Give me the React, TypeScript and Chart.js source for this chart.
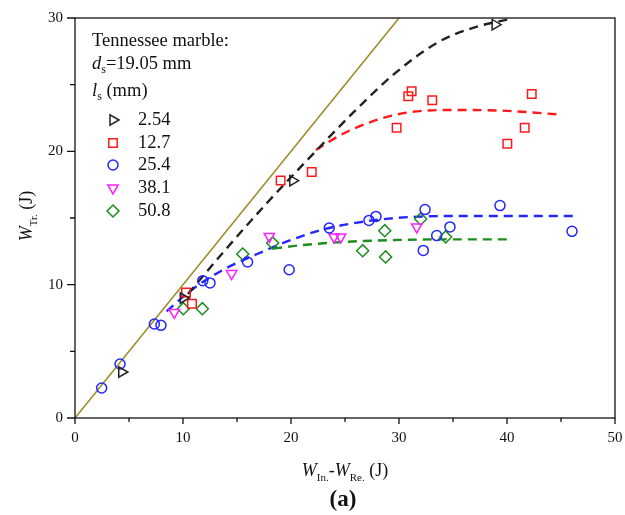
import React, { useEffect, useRef } from 'react';
import { Chart, registerables } from 'chart.js';

Chart.register(...registerables);

// ---- data (W_In.-W_Re. in J on x, W_Tr. in J on y) ----
const ls254X = [4.33, 10.03, 20.16, 38.9];
const ls254Y = [3.45, 9.0, 17.8, 29.5];

const ls127X = [10.28, 10.83, 19.04, 21.92, 29.78, 30.86, 31.17, 33.08, 40.03, 41.64, 42.29];
const ls127Y = [9.42, 8.57, 17.82, 18.45, 21.76, 24.13, 24.5, 23.83, 20.56, 21.76, 24.3];

const ls254bX = [2.47, 4.17, 7.35, 7.96, 11.83, 12.5, 15.98, 19.83, 23.54, 27.22, 27.87, 32.41, 32.25, 33.49, 34.72, 39.35, 46.02];
const ls254bY = [2.25, 4.05, 7.05, 6.95, 10.3, 10.13, 11.7, 11.12, 14.25, 14.82, 15.12, 15.63, 12.57, 13.68, 14.33, 15.93, 14.0];

const ls381X = [9.19, 14.5, 17.99, 23.98, 24.6, 31.64];
const ls381Y = [7.92, 10.83, 13.62, 13.58, 13.58, 14.33];

const ls508X = [10.03, 11.79, 15.53, 18.3, 26.64, 28.68, 28.76, 32.01, 34.32];
const ls508Y = [8.2, 8.2, 12.3, 13.13, 12.55, 14.05, 12.08, 14.93, 13.58];

// fitted trend curves
const fitBlackX = [10.46, 13.91, 17.86, 21.81, 25.75, 29.7, 33.65, 37.0, 40.4];
const fitBlackY = [9.3, 12.6, 16.2, 19.6, 22.9, 25.9, 28.2, 29.3, 29.95];
const fitRedX = [22.3, 24.77, 27.73, 30.69, 34.64, 39.57, 45.1];
const fitRedY = [20.1, 21.3, 22.3, 22.9, 23.1, 23.05, 22.75];
const fitBlueX = [8.48, 10.95, 13.91, 16.87, 19.83, 22.79, 25.75, 29.7, 34.64, 39.57, 46.48];
const fitBlueY = [8.0, 9.7, 11.2, 12.3, 13.3, 14.1, 14.6, 15.0, 15.15, 15.15, 15.15];
const fitGreenX = [18.35, 20.82, 24.77, 29.7, 34.64, 40.26];
const fitGreenY = [12.7, 12.95, 13.2, 13.35, 13.4, 13.4];

const refLineX = [0, 30];
const refLineY = [0, 30];

const xTickValues = [0, 10, 20, 30, 40, 50];
const yTickValues = [0, 10, 20, 30];

const seriesLabels = ['2.54', '12.7', '25.4', '38.1', '50.8'];

const FONT = '"Liberation Serif", "Times New Roman", serif';
const C_BLACK = '#222222';
const C_RED = '#ff1a1a';
const C_BLUE = '#2525ff';
const C_MAGENTA = '#ff22ff';
const C_GREEN = '#1e8c1e';
const C_OLIVE = '#9c8f2b';

const zip = (xs: number[], ys: number[]) => xs.map((x, i) => ({ x, y: ys[i] }));

type Run = { t: string; f: string; dy?: number };
function drawRuns(ctx: CanvasRenderingContext2D, runs: Run[], x: number, y: number, align: 'left' | 'center') {
  let total = 0;
  runs.forEach((r) => {
    ctx.font = r.f;
    total += ctx.measureText(r.t).width;
  });
  let cx = align === 'center' ? x - total / 2 : x;
  ctx.textAlign = 'left';
  runs.forEach((r) => {
    ctx.font = r.f;
    ctx.fillText(r.t, cx, y + (r.dy || 0));
    cx += ctx.measureText(r.t).width;
  });
}

function drawMarker(ctx: CanvasRenderingContext2D, kind: string, x: number, y: number, color: string) {
  ctx.save();
  ctx.strokeStyle = color;
  ctx.lineWidth = 1.5;
  ctx.beginPath();
  if (kind === 'circle') {
    ctx.arc(x, y, 5, 0, Math.PI * 2);
  } else if (kind === 'rect') {
    ctx.rect(x - 4.2, y - 4.2, 8.4, 8.4);
  } else if (kind === 'triRight') {
    ctx.moveTo(x + 6, y);
    ctx.lineTo(x - 3, y - 5.2);
    ctx.lineTo(x - 3, y + 5.2);
    ctx.closePath();
  } else if (kind === 'triDown') {
    ctx.moveTo(x, y + 6);
    ctx.lineTo(x - 5.2, y - 3);
    ctx.lineTo(x + 5.2, y - 3);
    ctx.closePath();
  } else if (kind === 'diamond') {
    ctx.moveTo(x, y - 6);
    ctx.lineTo(x + 6, y);
    ctx.lineTo(x, y + 6);
    ctx.lineTo(x - 6, y);
    ctx.closePath();
  }
  ctx.stroke();
  ctx.restore();
}

const decorPlugin = {
  id: 'decor',
  afterDraw(chart: any) {
    const ctx: CanvasRenderingContext2D = chart.ctx;
    const { left, right, top, bottom } = chart.chartArea;
    const xs = chart.scales.x;
    const ys = chart.scales.y;
    ctx.save();
    // frame
    ctx.strokeStyle = '#111';
    ctx.lineWidth = 1.3;
    ctx.strokeRect(left, top, right - left, bottom - top);
    // ticks (outward, major + minor)
    ctx.beginPath();
    for (let v = 0; v <= 50; v += 5) {
      const p = xs.getPixelForValue(v);
      const len = v % 10 === 0 ? 6 : 4;
      ctx.moveTo(p, bottom);
      ctx.lineTo(p, bottom + len);
    }
    for (let v = 0; v <= 30; v += 5) {
      const p = ys.getPixelForValue(v);
      const len = v % 10 === 0 ? 8 : 5;
      ctx.moveTo(left, p);
      ctx.lineTo(left - len, p);
    }
    ctx.stroke();

    // legend block
    ctx.fillStyle = '#111';
    ctx.textBaseline = 'middle';
    const f = `18.5px ${FONT}`;
    const fi = `italic 18.5px ${FONT}`;
    const fs = `12px ${FONT}`;
    drawRuns(ctx, [{ t: 'Tennessee marble:', f }], 92, 41, 'left');
    drawRuns(ctx, [{ t: 'd', f: fi }, { t: 's', f: fs, dy: 6 }, { t: '=19.05 mm', f }], 92, 64, 'left');
    drawRuns(ctx, [{ t: 'l', f: fi }, { t: 's', f: fs, dy: 6 }, { t: ' (mm)', f }], 92, 91, 'left');
    const kinds = ['triRight', 'rect', 'circle', 'triDown', 'diamond'];
    const cols = [C_BLACK, C_RED, C_BLUE, C_MAGENTA, C_GREEN];
    const rowsY = [120, 143, 165, 188, 211];
    seriesLabels.forEach((lab, i) => {
      drawMarker(ctx, kinds[i], 113, rowsY[i], cols[i]);
      ctx.fillStyle = '#111';
      drawRuns(ctx, [{ t: lab, f }], 138, rowsY[i], 'left');
    });

    // axis titles
    const ft = `18px ${FONT}`;
    const fti = `italic 18px ${FONT}`;
    const fts = `11px ${FONT}`;
    drawRuns(
      ctx,
      [
        { t: 'W', f: fti },
        { t: 'In.', f: fts, dy: 7 },
        { t: '-', f: ft },
        { t: 'W', f: fti },
        { t: 'Re.', f: fts, dy: 7 },
        { t: ' (J)', f: ft },
      ],
      345,
      471,
      'center'
    );
    ctx.save();
    ctx.translate(27, 216);
    ctx.rotate(-Math.PI / 2);
    drawRuns(ctx, [{ t: 'W', f: fti }, { t: 'Tr.', f: fts, dy: 7 }, { t: ' (J)', f: ft }], 0, 0, 'center');
    ctx.restore();
    drawRuns(ctx, [{ t: '(a)', f: `bold 23px ${FONT}` }], 343, 500, 'center');
    ctx.restore();
  },
};

export default function App() {
  const ref = useRef<HTMLCanvasElement | null>(null);
  useEffect(() => {
    if (!ref.current) return;
    const pointDs = (label: string, xs: number[], ys: number[], color: string, style: any, rot: number, r: number) => ({
      type: 'scatter' as const,
      label,
      data: zip(xs, ys),
      showLine: false,
      borderColor: color,
      backgroundColor: 'rgba(0,0,0,0)',
      pointStyle: style,
      pointRotation: rot,
      pointRadius: r,
      pointBorderWidth: 1.5,
      order: 1,
    });
    const lineDs = (label: string, xs: number[], ys: number[], color: string, dash: number[], width: number) => ({
      type: 'line' as const,
      label,
      data: zip(xs, ys),
      showLine: true,
      borderColor: color,
      backgroundColor: color,
      borderWidth: width,
      borderDash: dash,
      pointRadius: 0,
      cubicInterpolationMode: 'monotone' as const,
      fill: false,
      order: 2,
    });
    const chart = new Chart(ref.current, {
      type: 'scatter',
      data: {
        datasets: [
          lineDs('y=x', refLineX, refLineY, C_OLIVE, [], 1.6),
          lineDs('fit 2.54', fitBlackX, fitBlackY, C_BLACK, [9, 6], 2.4),
          lineDs('fit 12.7', fitRedX, fitRedY, C_RED, [9, 6], 2.4),
          lineDs('fit 25.4', fitBlueX, fitBlueY, C_BLUE, [9, 6], 2.4),
          lineDs('fit 50.8', fitGreenX, fitGreenY, C_GREEN, [9, 6], 2.4),
          pointDs('2.54', ls254X, ls254Y, C_BLACK, 'triangle', 90, 6),
          pointDs('12.7', ls127X, ls127Y, C_RED, 'rect', 0, 6),
          pointDs('25.4', ls254bX, ls254bY, C_BLUE, 'circle', 0, 5),
          pointDs('38.1', ls381X, ls381Y, C_MAGENTA, 'triangle', 180, 6),
          pointDs('50.8', ls508X, ls508Y, C_GREEN, 'rectRot', 0, 6),
        ] as any,
      },
      options: {
        responsive: false,
        animation: false,
        layout: { padding: { top: 18, right: 10, left: 0, bottom: 0 } },
        plugins: { legend: { display: false }, tooltip: { enabled: false } },
        scales: {
          x: {
            type: 'linear',
            min: 0,
            max: 50,
            afterFit: (s: any) => {
              s.height = 97;
              s.paddingLeft = 0;
              s.paddingRight = 0;
            },
            afterBuildTicks: (s: any) => {
              s.ticks = xTickValues.map((v) => ({ value: v }));
            },
            grid: { display: false, drawTicks: false },
            border: { display: false },
            ticks: { padding: 11, color: '#111', font: { family: FONT, size: 15 } },
          },
          y: {
            type: 'linear',
            min: 0,
            max: 30,
            afterFit: (s: any) => {
              s.width = 75;
              s.paddingTop = 0;
              s.paddingBottom = 0;
            },
            afterBuildTicks: (s: any) => {
              s.ticks = yTickValues.map((v) => ({ value: v }));
            },
            grid: { display: false, drawTicks: false },
            border: { display: false },
            ticks: { padding: 12, color: '#111', font: { family: FONT, size: 15 } },
          },
        },
      } as any,
      plugins: [decorPlugin],
    });
    return () => chart.destroy();
  }, []);
  return (
    <div style={{ position: 'absolute', left: 0, top: 0, width: 625, height: 515, background: '#fff' }}>
      <canvas ref={ref} width={625} height={515} style={{ width: 625, height: 515 }} />
    </div>
  );
}
